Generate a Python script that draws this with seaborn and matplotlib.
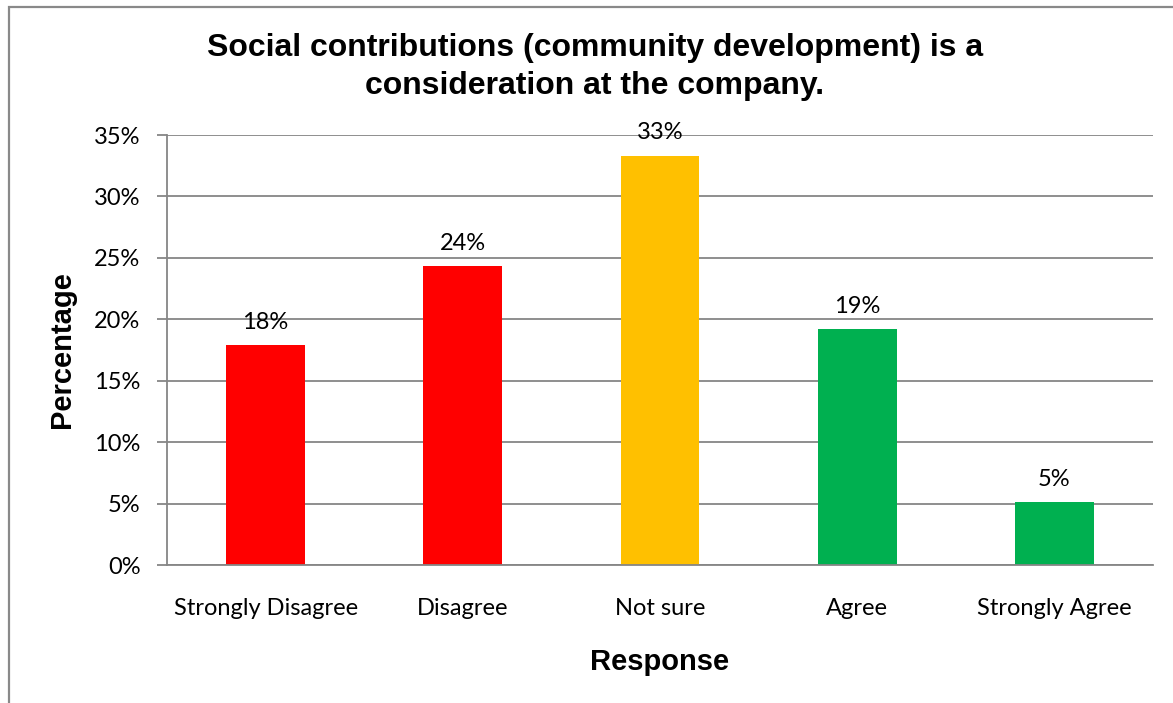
import matplotlib
matplotlib.use("Agg")
import matplotlib.pyplot as plt
from matplotlib.patches import Rectangle
from matplotlib.ticker import PercentFormatter
import seaborn as sns
import pandas as pd

# Survey responses and their shares
responses = ["Strongly Disagree", "Disagree", "Not sure", "Agree", "Strongly Agree"]
shares = [0.179, 0.243, 0.333, 0.192, 0.051]
bar_colors = ["#FF0000", "#FF0000", "#FFC000", "#00B050", "#00B050"]
y_ticks = [0.0, 0.05, 0.10, 0.15, 0.20, 0.25, 0.30, 0.35]

title_text = "Social contributions (community development) is a\nconsideration at the company."
x_label = "Response"
y_label = "Percentage"

sns.set_theme(style="white")
plt.rcParams["font.family"] = ["Lato", "DejaVu Sans"]
plt.rcParams["text.color"] = "black"
plt.rcParams["axes.labelcolor"] = "black"
plt.rcParams["xtick.color"] = "black"
plt.rcParams["ytick.color"] = "black"

df = pd.DataFrame({"response": responses, "share": shares})

fig = plt.figure(figsize=(11.73, 7.03), dpi=100)
ax = fig.add_axes([167 / 1173, 1 - 565 / 703, (1153 - 167) / 1173, (565 - 135) / 703])

grid_color = "#868686"
ax.set_axisbelow(True)
ax.yaxis.grid(True, color=grid_color, linewidth=1.3)

sns.barplot(data=df, x="response", y="share", hue="response", palette=bar_colors,
            width=0.4, saturation=1, legend=False, ax=ax, edgecolor="none")

ax.set_ylim(0, 0.35)
ax.set_yticks(y_ticks)
ax.yaxis.set_major_formatter(PercentFormatter(1.0, decimals=0))
ax.set_xlim(-0.5, len(responses) - 0.5)

for spine in ["top", "right"]:
    ax.spines[spine].set_visible(False)
ax.spines["left"].set_color(grid_color)
ax.spines["left"].set_linewidth(1.3)
ax.spines["bottom"].set_color(grid_color)
ax.spines["bottom"].set_linewidth(1.3)

ax.tick_params(axis="y", which="major", left=True, length=7, width=1.3, color=grid_color,
               labelsize=17, labelcolor="black", pad=12)
ax.tick_params(axis="x", which="major", bottom=False, labelsize=17, labelcolor="black", pad=18)

for i, v in enumerate(shares):
    ax.annotate(f"{v:.0%}", xy=(i, v), xytext=(0, 9), textcoords="offset points",
                ha="center", va="bottom", fontsize=17, color="black")

ax.set_xlabel(x_label, fontsize=21, fontweight="bold", family=["Liberation Sans", "DejaVu Sans"],
              labelpad=21, color="black")
ax.set_ylabel(y_label, fontsize=21, fontweight="bold", family=["Liberation Sans", "DejaVu Sans"],
              labelpad=13, color="black")

fig.text(595 / 1173, 1 - 67 / 703, title_text, ha="center", va="center", fontsize=23,
         fontweight="bold", family=["Liberation Sans", "DejaVu Sans"], linespacing=1.32,
         color="black")

# chart frame: only the top and left edges fall inside the canvas
fig.patches.append(Rectangle((9 / 1173, -0.2), 1.2, 1 - 7 / 703 + 0.2, transform=fig.transFigure,
                             fill=False, edgecolor="#898989", linewidth=1.6, clip_on=False))

fig.savefig("out.png", dpi=100, facecolor="white")
